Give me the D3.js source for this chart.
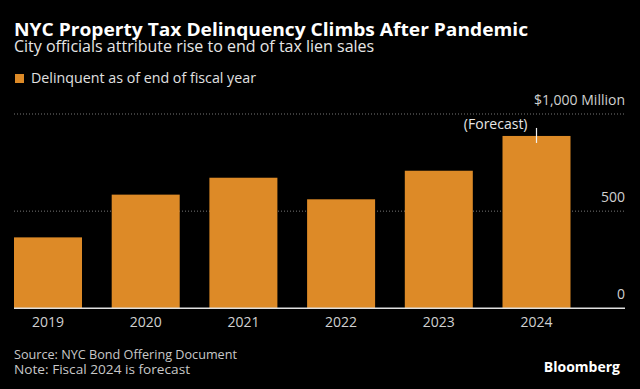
<!DOCTYPE html>
<html>
<head>
<meta charset="utf-8">
<script src="https://cdn.jsdelivr.net/npm/d3@7"></script>
<style>
  html, body { margin: 0; padding: 0; background: #000; }
  svg { display: block; font-family: "Open Sans", "Noto Sans", sans-serif; }
</style>
</head>
<body>
<svg id="chart" width="640" height="389"></svg>
<script>
// values in $ millions
var years = ['2019', '2020', '2021', '2022', '2023', '2024'];
var delinquent = [365, 585, 672, 561, 708, 887];
var yTicks = [0, 500, 1000];
var yTickLabels = ['0', '500', '$1,000 Million'];

var svg = d3.select('#chart'),
    width = +svg.attr('width'),
    height = +svg.attr('height'),
    orange = '#dd8a27';

svg.append('rect').attr('width', width).attr('height', height).attr('fill', '#000');

var x = d3.scaleBand()
    .domain(years)
    .range([14, 570.5])
    .paddingInner(0.304)
    .paddingOuter(0);

var y = d3.scaleLinear()
    .domain([0, 1000])
    .range([308.3, 114]);

// stretch/squeeze text to the width measured on the reference
function fit(sel, w) {
  var n = sel.node();
  if (Math.abs(n.getComputedTextLength() - w) > 1) {
    sel.attr('textLength', w).attr('lengthAdjust', 'spacingAndGlyphs');
  }
}

// header
svg.append('text')
    .attr('x', 14).attr('y', 36)
    .attr('fill', '#fff')
    .style('font-size', '18.5px').style('font-weight', 'bold')
    .text('NYC Property Tax Delinquency Climbs After Pandemic')
    .call(fit, 514);

svg.append('text')
    .attr('x', 14).attr('y', 52)
    .attr('fill', '#e6e6e6')
    .style('font-size', '16px')
    .text('City officials attribute rise to end of tax lien sales')
    .call(fit, 361);

svg.append('rect')
    .attr('x', 15).attr('y', 74).attr('width', 9).attr('height', 9)
    .attr('fill', orange);
svg.append('text')
    .attr('x', 31).attr('y', 83)
    .attr('fill', '#e0e0e0')
    .style('font-size', '14px')
    .text('Delinquent as of end of fiscal year')
    .call(fit, 225);

// grid
var grid = svg.append('g');
grid.selectAll('line')
    .data(yTicks.filter(function(d){ return d > 0; }))
    .join('line')
    .attr('x1', 14).attr('x2', 625)
    .attr('y1', function(d){ return y(d); })
    .attr('y2', function(d){ return y(d); })
    .attr('stroke', '#777')
    .attr('stroke-width', 1)
    .attr('stroke-dasharray', '1,2');

grid.selectAll('text')
    .data(yTicks)
    .join('text')
    .attr('x', 625)
    .attr('y', function(d){ return y(d) - 9; })
    .attr('text-anchor', 'end')
    .attr('fill', '#d0d0d0')
    .style('font-size', '14px')
    .text(function(d, i){ return yTickLabels[i]; });

// bars
svg.append('g').selectAll('rect')
    .data(delinquent)
    .join('rect')
    .attr('x', function(d, i){ return x(years[i]); })
    .attr('y', function(d){ return y(d); })
    .attr('width', x.bandwidth())
    .attr('height', function(d){ return y(0) - y(d); })
    .attr('fill', orange);

// baseline
svg.append('line')
    .attr('x1', 14).attr('x2', 625)
    .attr('y1', y(0)).attr('y2', y(0))
    .attr('stroke', '#e0e0e0').attr('stroke-width', 1.5);

// x labels
svg.append('g').selectAll('text')
    .data(years)
    .join('text')
    .attr('x', function(d){ return x(d) + x.bandwidth() / 2; })
    .attr('y', 327)
    .attr('text-anchor', 'middle')
    .attr('fill', '#d0d0d0')
    .style('font-size', '14px')
    .text(function(d){ return d; });

// forecast note on last bar
var lastYear = years[years.length - 1],
    lastVal = delinquent[delinquent.length - 1],
    cx = x(lastYear) + x.bandwidth() / 2;
svg.append('line')
    .attr('x1', cx).attr('x2', cx)
    .attr('y1', y(lastVal) - 8).attr('y2', y(lastVal) + 7)
    .attr('stroke', '#f0f0f0').attr('stroke-width', 1.2);
svg.append('text')
    .attr('x', cx - 9).attr('y', y(lastVal) - 7)
    .attr('text-anchor', 'end')
    .attr('fill', '#e6e6e6')
    .style('font-size', '14px')
    .text('(Forecast)');

// footer
svg.append('text')
    .attr('x', 14).attr('y', 359)
    .attr('fill', '#c8c8c8')
    .style('font-size', '13px')
    .text('Source: NYC Bond Offering Document')
    .call(fit, 223);
svg.append('text')
    .attr('x', 14).attr('y', 374)
    .attr('fill', '#c8c8c8')
    .style('font-size', '13px')
    .text('Note: Fiscal 2024 is forecast')
    .call(fit, 176);

svg.append('text')
    .attr('x', 620).attr('y', 372)
    .attr('text-anchor', 'end')
    .attr('fill', '#fff')
    .style('font-size', '14px').style('font-weight', 'bold')
    .text('Bloomberg');
</script>
</body>
</html>
